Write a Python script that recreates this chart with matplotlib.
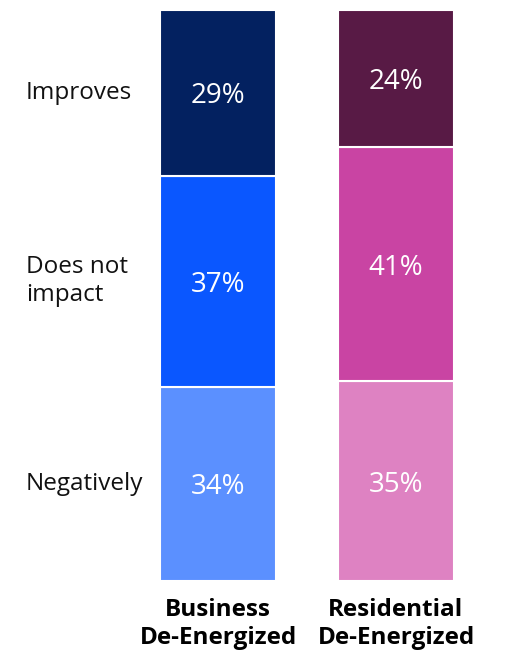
import matplotlib.pyplot as plt
import matplotlib.transforms as mtransforms

plt.rcParams['font.family'] = ['Open Sans', 'DejaVu Sans']

groups = ["Business\nDe-Energized", "Residential\nDe-Energized"]
categories = ["Negatively", "Does not\nimpact", "Improves"]
business = [34, 37, 29]
residential = [35, 41, 24]

colors_business = ["#5b90ff", "#0a57ff", "#032160"]
colors_residential = ["#de82c2", "#c944a3", "#581a45"]

fig = plt.figure(figsize=(5.16, 6.5), dpi=100)
ax = fig.add_axes([0, 69 / 650, 1, 571 / 650])

width = 116 / 178
for x, vals, cols in [(0, business, colors_business), (1, residential, colors_residential)]:
    bottom = 0
    for v, c in zip(vals, cols):
        ax.bar(x, v, width, bottom=bottom, color=c, edgecolor="white", linewidth=1.5)
        ax.text(x, bottom + v / 2 - 0.6, f"{v}%", ha="center", va="center",
                color="white", fontsize=20)
        bottom += v

ax.set_xlim(-218 / 178, 298 / 178)
ax.set_ylim(0, 100)
ax.axis("off")

# row labels, aligned with business segments
trans = mtransforms.blended_transform_factory(fig.transFigure, ax.transData)
bottom = 0
for cat, v in zip(categories, business):
    ax.text(26 / 516, bottom + v / 2, cat, transform=trans, ha="left", va="center",
            fontsize=17.5, color="#111111", linespacing=1.2)
    bottom += v

for x, g in enumerate(groups):
    ax.text(x, -3.0, g, ha="center", va="top", fontsize=17.5, fontweight="bold",
            color="black", linespacing=1.2)

fig.savefig("out.png", dpi=100)
